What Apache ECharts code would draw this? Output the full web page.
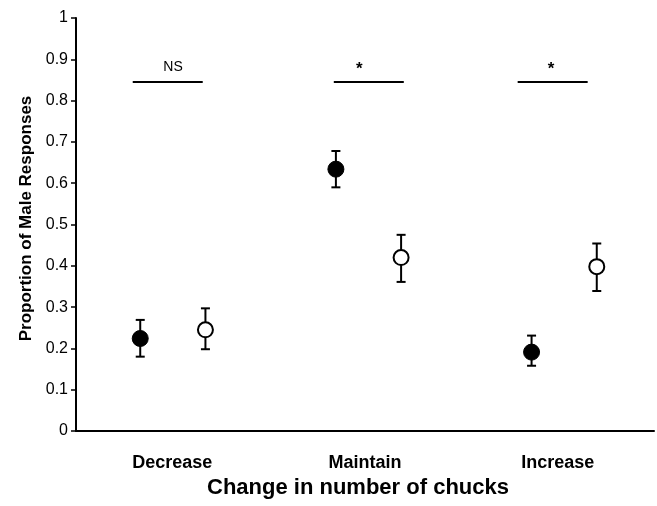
<!DOCTYPE html>
<html>
<head>
<meta charset="utf-8">
<script src="https://cdn.jsdelivr.net/npm/echarts@6/dist/echarts.min.js"></script>
<style>
html,body{margin:0;padding:0;background:#fff;}
#chart{width:657px;height:506px;}
</style>
</head>
<body>
<div id="chart"></div>
<script>
// ---- data ----
const categories = ['Decrease', 'Maintain', 'Increase'];
const filledMean = [0.224, 0.634, 0.191];
const filledLow  = [0.180, 0.590, 0.158];
const filledHigh = [0.269, 0.678, 0.231];
const openMean   = [0.245, 0.420, 0.398];
const openLow    = [0.198, 0.361, 0.339];
const openHigh   = [0.297, 0.475, 0.454];
const sigLabels  = ['NS', '*', '*'];
const sigLevel   = [0.845, 0.845, 0.845];
const yAxisName = 'Proportion of Male Responses';
const xAxisName = 'Change in number of chucks';

// ---- layout (pixels) ----
const PAIR_DX = 32.6;
const SIG_LINE_SHIFT = [-4.6, 3.8, -5];
const SIG_TEXT_SHIFT = [0.7, -5.7, -6.7];
const SIG_HALF = 35;
const FONT = "'Liberation Sans', Arial, Helvetica, sans-serif";

const chart = echarts.init(document.getElementById('chart'), null, {renderer: 'canvas'});

function errRender(dx) {
  return function (params, api) {
    const i = api.value(0);
    const lo = api.coord([i, api.value(1)]);
    const hi = api.coord([i, api.value(2)]);
    const x = lo[0] + dx;
    const cap = 4.5;
    const st = {stroke: '#000', lineWidth: 2};
    return {
      type: 'group',
      children: [
        {type: 'line', shape: {x1: x, y1: lo[1], x2: x, y2: hi[1]}, style: st},
        {type: 'line', shape: {x1: x - cap, y1: lo[1], x2: x + cap, y2: lo[1]}, style: st},
        {type: 'line', shape: {x1: x - cap, y1: hi[1], x2: x + cap, y2: hi[1]}, style: st}
      ]
    };
  };
}

function sigRender(params, api) {
  const i = api.value(0);
  const p = api.coord([i, api.value(1)]);
  const idx = params.dataIndex;
  const cx = p[0] + SIG_LINE_SHIFT[idx];
  const tx = p[0] + SIG_TEXT_SHIFT[idx];
  const isStar = sigLabels[idx] === '*';
  return {
    type: 'group',
    children: [
      {type: 'line', shape: {x1: cx - SIG_HALF, y1: p[1], x2: cx + SIG_HALF, y2: p[1]},
       style: {stroke: '#000', lineWidth: 2}},
      {type: 'text', x: tx, y: p[1] - (isStar ? 4 : 8),
       style: {text: sigLabels[idx], fill: '#000',
               font: (isStar ? 'bold 17px ' : '14px ') + FONT,
               textAlign: 'center', textVerticalAlign: 'bottom'}}
    ]
  };
}

const yBase = {
  type: 'value', min: 0, max: 1, interval: 0.1
};

const option = {
  backgroundColor: '#fff',
  animation: false,
  grid: [
    {left: 76, right: 3, top: 18, bottom: 75, containLabel: false, outerBoundsMode: 'none'},
    {left: 75, width: 587, top: 18, bottom: 75, containLabel: false, outerBoundsMode: 'none'}
  ],
  xAxis: [
    {
      type: 'category', gridIndex: 0, data: categories,
      axisLine: {show: true, lineStyle: {color: '#000', width: 2}},
      axisTick: {show: false},
      axisLabel: {show: true, margin: 23, interval: 0, hideOverlap: false,
                  fontFamily: FONT, fontWeight: 'bold', fontSize: 18, color: '#000'},
      name: xAxisName, nameLocation: 'middle', nameGap: 39,
      nameTextStyle: {fontFamily: FONT, fontWeight: 'bold', fontSize: 22, color: '#000',
                      padding: [0, 14, 0, 0]},
      splitLine: {show: false}
    },
    {
      type: 'category', gridIndex: 1, data: categories, show: false
    }
  ],
  yAxis: [
    Object.assign({}, yBase, {
      gridIndex: 0,
      axisLine: {show: true, lineStyle: {color: '#000', width: 2}},
      axisTick: {show: true, inside: false, length: 5, lineStyle: {color: '#000', width: 1.5}},
      axisLabel: {show: true, margin: 8, fontFamily: FONT, fontSize: 16, color: '#000',
                  hideOverlap: false, showMinLabel: true, showMaxLabel: true},
      splitLine: {show: false},
      name: yAxisName, nameLocation: 'middle', nameGap: 38, nameRotate: 90,
      nameTextStyle: {fontFamily: FONT, fontWeight: 'bold', fontSize: 17, color: '#000',
                      padding: [0, 0, 0, 12]}
    }),
    Object.assign({}, yBase, {gridIndex: 1, show: false, splitLine: {show: false}})
  ],
  series: [
    {
      type: 'custom', xAxisIndex: 0, yAxisIndex: 0,
      renderItem: sigRender,
      data: categories.map((c, i) => [i, sigLevel[i]]),
      z: 5, silent: true
    },
    {
      type: 'custom', xAxisIndex: 1, yAxisIndex: 1,
      renderItem: errRender(-PAIR_DX),
      data: categories.map((c, i) => [i, filledLow[i], filledHigh[i]]),
      z: 2, silent: true
    },
    {
      type: 'custom', xAxisIndex: 1, yAxisIndex: 1,
      renderItem: errRender(PAIR_DX),
      data: categories.map((c, i) => [i, openLow[i], openHigh[i]]),
      z: 2, silent: true
    },
    {
      type: 'scatter', xAxisIndex: 1, yAxisIndex: 1,
      data: filledMean,
      symbol: 'circle', symbolSize: 16, symbolOffset: [-PAIR_DX, 0],
      itemStyle: {color: '#000', borderColor: '#000', borderWidth: 1, opacity: 1},
      z: 3, silent: true
    },
    {
      type: 'scatter', xAxisIndex: 1, yAxisIndex: 1,
      data: openMean,
      symbol: 'circle', symbolSize: 15, symbolOffset: [PAIR_DX, 0],
      itemStyle: {color: '#fff', borderColor: '#000', borderWidth: 2, opacity: 1},
      z: 3, silent: true
    }
  ]
};
chart.setOption(option);
</script>
</body>
</html>
